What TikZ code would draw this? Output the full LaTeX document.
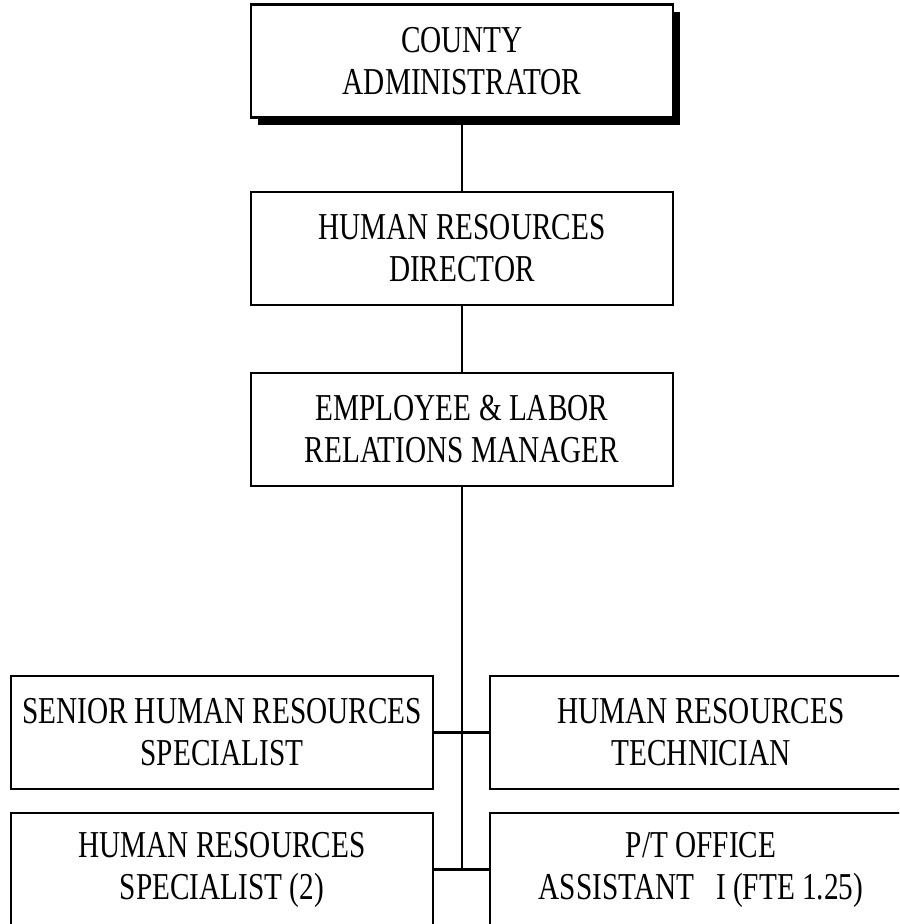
\documentclass[tikz,border=0pt]{standalone}
\usepackage{fontspec}
\setmainfont{Liberation Serif}[FakeStretch=0.77]
\usetikzlibrary{shadows}
\begin{document}
\begin{tikzpicture}[x=0.5pt,y=-0.5pt,
  post/.style={draw=black, line width=1.25pt, fill=white, align=center,
    minimum width=211pt, minimum height=56.5pt, inner sep=0pt,
    font=\fontsize{19}{21}\selectfont},
  headpost/.style={post, drop shadow={shadow xshift=3.5pt, shadow yshift=-4pt,
    fill=black, opacity=1}},
  link/.style={line width=1.35pt}]
  \useasboundingbox (0,0) rectangle (899,924);
  \clip (0,0) rectangle (899,924);

  % chain of command
  \node[headpost] (admin) at (462,61) {COUNTY\\ADMINISTRATOR};
  \node[post] (director) at (462,248.5) {HUMAN RESOURCES\\DIRECTOR};
  \node[post] (manager) at (462,429.5) {EMPLOYEE \& LABOR\\RELATIONS MANAGER};

  % staff reporting to the manager
  \node[post] (senior) at (222,732.5) {SENIOR HUMAN RESOURCES\\SPECIALIST};
  \node[post] (tech) at (701,732.5) {HUMAN RESOURCES\\TECHNICIAN};
  \node[post] (spec) at (222,869.5) {HUMAN RESOURCES\\SPECIALIST (2)};
  \node[post] (office) at (701,869.5) {P/T OFFICE\\ASSISTANT\ \ \ I (FTE 1.25)};

  \coordinate (trunkend) at (462,869.5);

  \draw[link] (admin) -- (director);
  \draw[link] (director) -- (manager);
  \draw[link] (manager.south) -- (trunkend);
  \draw[link] (senior.east) -- (tech.west);
  \draw[link] (spec.east) -- (office.west);
\end{tikzpicture}
\end{document}
